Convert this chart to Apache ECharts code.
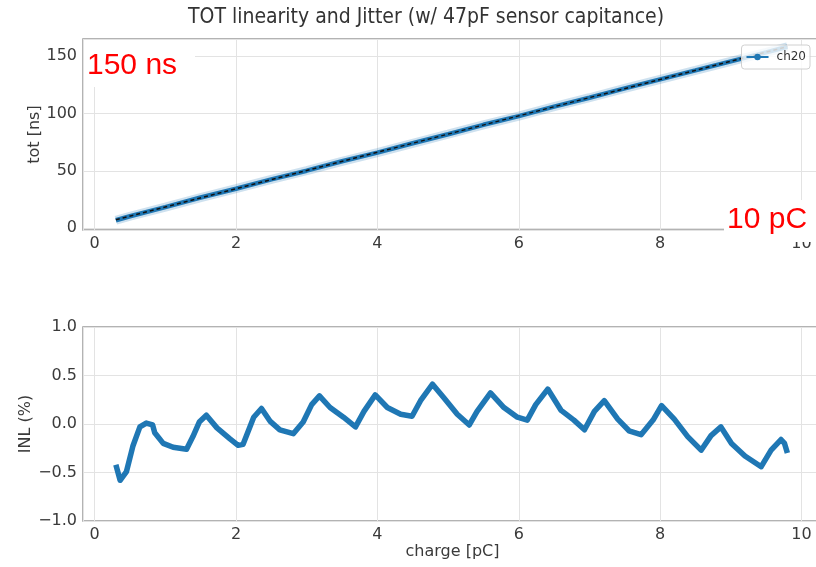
<!DOCTYPE html>
<html>
<head>
<meta charset="utf-8">
<script src="https://cdn.jsdelivr.net/npm/echarts@6/dist/echarts.min.js"></script>
<style>
    html, body { margin: 0; padding: 0; background: #fff; }
    #chart { width: 816px; height: 567px; }
</style>
</head>
<body>
<div id="chart"></div>
<script>
    // TOT vs charge (ch20)
    const totCharge = [0.3, 0.5, 1.0, 1.5, 2.0, 2.5, 3.0, 3.5, 4.0, 4.5, 5.0, 5.5, 6.0, 6.5, 7.0, 7.5, 8.0, 8.5, 9.0, 9.5, 9.8];
    const totValue = [7.0, 10.5, 18.5, 26.8, 34.5, 42.6, 50.2, 58.4, 66.0, 74.1, 82.0, 90.2, 97.8, 106.0, 113.8, 121.9, 129.8, 137.6, 145.5, 153.4, 158.2];
    // linear fit (dashed black)
    const fitCharge = [0.3, 9.8];
    const fitTot = [7.4, 158.4];

    // integral non-linearity
    const inlCharge = [0.30, 0.36, 0.45, 0.54, 0.64, 0.73, 0.82, 0.85, 0.97, 1.11, 1.30, 1.39, 1.48, 1.58, 1.73, 1.91, 2.03, 2.10, 2.25, 2.36, 2.48,
        2.62, 2.81, 2.95, 3.07, 3.18, 3.33, 3.52, 3.69, 3.81, 3.97, 4.14, 4.33, 4.49, 4.61, 4.78, 4.94, 5.13, 5.30, 5.41, 5.60, 5.79,
        5.98, 6.12, 6.24, 6.41, 6.60, 6.78, 6.93, 7.07, 7.21, 7.40, 7.56, 7.73, 7.90, 8.02, 8.20, 8.39, 8.58, 8.72, 8.86, 9.01, 9.20,
        9.43, 9.57, 9.71, 9.76, 9.80];
    const inlValue = [-0.42, -0.58, -0.49, -0.23, -0.03, 0.01, -0.01, -0.09, -0.20, -0.24, -0.26, -0.13, 0.02, 0.09, -0.04, -0.15, -0.22, -0.21, 0.07, 0.16, 0.03,
        -0.06, -0.10, 0.02, 0.20, 0.29, 0.17, 0.07, -0.03, 0.13, 0.30, 0.17, 0.10, 0.08, 0.24, 0.41, 0.27, 0.10, -0.01, 0.13, 0.32, 0.17,
        0.07, 0.04, 0.20, 0.36, 0.14, 0.04, -0.06, 0.13, 0.24, 0.05, -0.07, -0.11, 0.04, 0.19, 0.05, -0.13, -0.27, -0.12, -0.03, -0.20, -0.33,
        -0.44, -0.27, -0.16, -0.20, -0.30];

    const xTickStep = 2;

    const pair = (xs, ys) => xs.map((x, i) => [x, ys[i]]);
    const minus = (s) => String(s).replace('-', '\u2212');

    const labelColor = '#3a3a3a';
    const gridLine = { show: true, lineStyle: { color: '#e3e3e3', width: 1 } };
    const nameStyle = { fontFamily: 'DejaVu Sans', fontSize: 16, color: labelColor };

    const xAxisBase = {
        type: 'value',
        min: -0.165,
        max: 10.29,
        splitNumber: 5,
        axisLine: { show: false },
        axisTick: { show: false },
        splitLine: gridLine,
        axisLabel: {
            color: labelColor,
            fontFamily: 'DejaVu Sans',
            fontSize: 16,
            margin: 6,
            formatter: (v) => (Math.abs(v % xTickStep) < 1e-6 ? String(v) : '')
        }
    };

    const chart = echarts.init(document.getElementById('chart'));
    const option = {
        animation: false,
        backgroundColor: '#fff',
        title: {
            text: 'TOT linearity and Jitter (w/ 47pF sensor capitance)',
            left: 421,
            textAlign: 'center',
            top: 2,
            textStyle: {
                fontFamily: 'DejaVu Sans Condensed, DejaVu Sans',
                fontWeight: 'normal',
                fontSize: 21,
                color: '#333'
            }
        },
        legend: {
            data: ['ch20'],
            right: 6,
            top: 45,
            z: 10,
            padding: [6, 4],
            itemWidth: 22,
            itemHeight: 8,
            itemGap: 5,
            backgroundColor: 'rgba(255,255,255,0.8)',
            borderColor: '#d0d0d0',
            borderWidth: 1,
            borderRadius: 3,
            textStyle: { fontFamily: 'DejaVu Sans', fontSize: 12, color: '#333', padding: [0, 0, 0, 3] }
        },
        grid: [
            { left: 83, top: 39, width: 739, height: 191, outerBoundsMode: 'none', show: true, borderColor: '#9a9a9a', borderWidth: 1.5, backgroundColor: '#fff' },
            { left: 83, top: 327, width: 739, height: 194, outerBoundsMode: 'none', show: true, borderColor: '#9a9a9a', borderWidth: 1.5, backgroundColor: '#fff' }
        ],
        xAxis: [
            Object.assign({ gridIndex: 0 }, xAxisBase),
            Object.assign({ gridIndex: 1, name: 'charge [pC]', nameLocation: 'middle', nameGap: 23, nameMoveOverlap: false, nameTextStyle: nameStyle }, xAxisBase)
        ],
        yAxis: [
            {
                gridIndex: 0,
                type: 'value',
                min: -1.5,
                max: 165,
                splitNumber: 3,
                name: 'tot [ns]',
                nameLocation: 'middle',
                nameGap: 40,
                nameMoveOverlap: false,
                nameTextStyle: nameStyle,
                axisLine: { show: false },
                axisTick: { show: false },
                splitLine: gridLine,
                axisLabel: {
                    color: labelColor, fontFamily: 'DejaVu Sans', fontSize: 16, margin: 6,
                    formatter: (v) => (Math.abs(v % 50) < 1e-6 ? String(v) : '')
                }
            },
            {
                gridIndex: 1,
                type: 'value',
                min: -1,
                max: 1,
                interval: 0.5,
                name: 'INL (%)',
                nameLocation: 'middle',
                nameGap: 49,
                nameMoveOverlap: false,
                nameTextStyle: nameStyle,
                axisLine: { show: false },
                axisTick: { show: false },
                splitLine: gridLine,
                axisLabel: {
                    color: labelColor, fontFamily: 'DejaVu Sans', fontSize: 16, margin: 6,
                    formatter: (v) => minus(v.toFixed(1))
                }
            }
        ],
        series: [
            {
                name: 'band',
                type: 'line',
                xAxisIndex: 0,
                yAxisIndex: 0,
                data: pair(totCharge, totValue),
                showSymbol: false,
                silent: true,
                lineStyle: { color: 'rgba(31,119,180,0.22)', width: 9 },
                z: 1
            },
            {
                name: 'ch20',
                type: 'line',
                xAxisIndex: 0,
                yAxisIndex: 0,
                data: pair(totCharge, totValue),
                symbol: 'circle',
                symbolSize: 4,
                showSymbol: false,
                itemStyle: { color: '#1f77b4' },
                lineStyle: { color: '#1f77b4', width: 4.5 },
                z: 2
            },
            {
                name: 'fit',
                type: 'line',
                xAxisIndex: 0,
                yAxisIndex: 0,
                data: pair(fitCharge, fitTot),
                showSymbol: false,
                silent: true,
                lineStyle: { color: '#111', width: 1.5, type: [4, 3] },
                z: 3
            },
            {
                name: 'INL',
                type: 'line',
                xAxisIndex: 1,
                yAxisIndex: 1,
                data: pair(inlCharge, inlValue),
                showSymbol: false,
                lineStyle: { color: '#1f77b4', width: 5.5, join: 'round' }
            }
        ],
        graphic: [
            { type: 'rect', z: 100, shape: { x: 84, y: 40, width: 111, height: 47 }, style: { fill: '#fff' } },
            { type: 'text', z: 101, x: 87, y: 66, style: { text: '150 ns', fill: '#ff0000', font: '30px "Liberation Sans"', verticalAlign: 'middle' } },
            { type: 'rect', z: 100, shape: { x: 724, y: 200, width: 92, height: 42 }, style: { fill: '#fff' } },
            { type: 'text', z: 101, x: 727, y: 220, style: { text: '10 pC', fill: '#ff0000', font: '30px "Liberation Sans"', verticalAlign: 'middle' } }
        ]
    };
    chart.setOption(option);
</script>
</body>
</html>
